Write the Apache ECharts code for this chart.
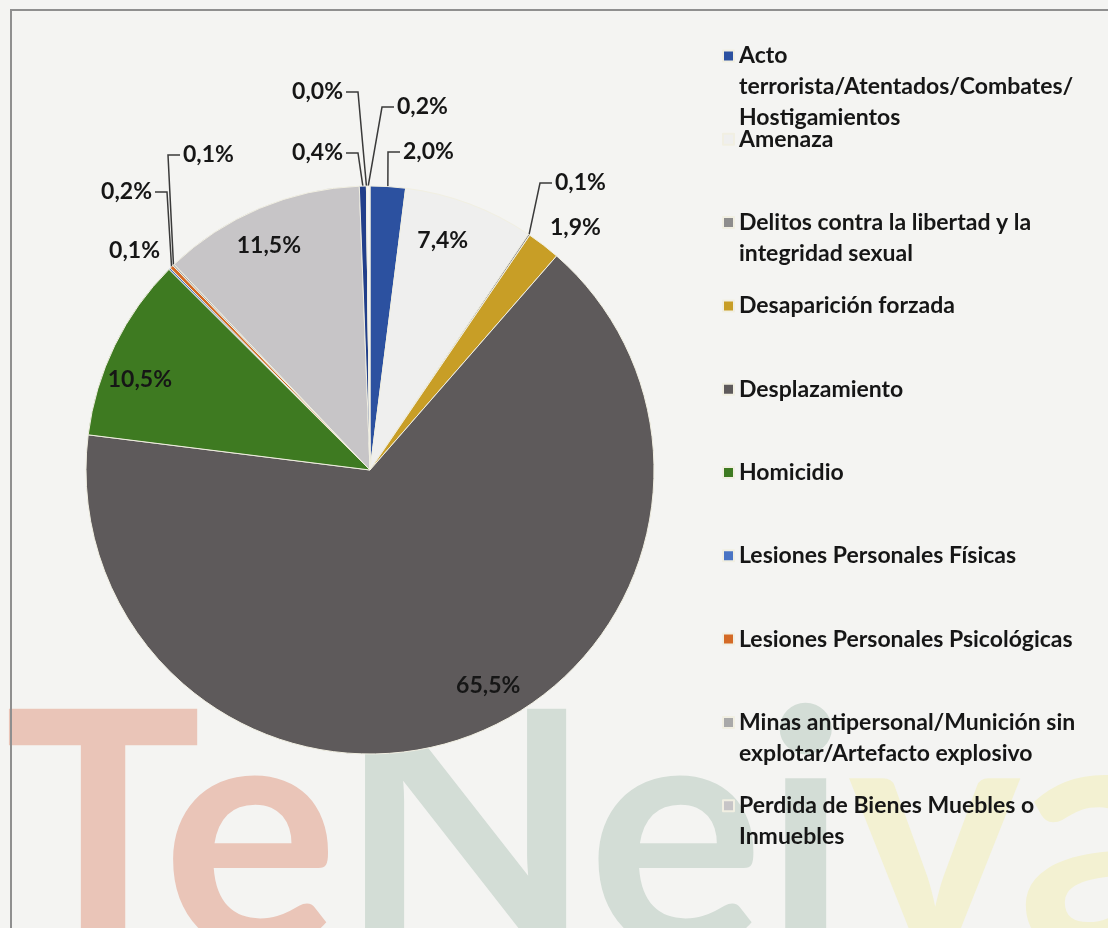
<!DOCTYPE html>
<html>
<head>
<meta charset="utf-8">
<title>Hechos victimizantes</title>
<script src="https://cdn.jsdelivr.net/npm/echarts@6/dist/echarts.min.js"></script>
<style>
  html, body { margin: 0; padding: 0; background: #f4f4f2; }
  #chart { width: 1108px; height: 928px; }
</style>
</head>
<body>
<div id="chart"></div>
<script>
// categories in the order the slices go round (clockwise from 12 o'clock)
const categories = [
  'Acto terrorista/Atentados/Combates/Hostigamientos',
  'Amenaza',
  'Delitos contra la libertad y la integridad sexual',
  'Desaparición forzada',
  'Desplazamiento',
  'Homicidio',
  'Lesiones Personales Físicas',
  'Lesiones Personales Psicológicas',
  'Minas antipersonal/Munición sin explotar/Artefacto explosivo',
  'Perdida de Bienes Muebles o Inmuebles',
  'Secuestro',
  'Sin información',
  'Tortura'
];
// percentage of victims
const percentages = [2.0, 7.4, 0.1, 1.9, 65.5, 10.5, 0.1, 0.2, 0.1, 11.5, 0.4, 0.0, 0.2];
// only these show in the legend of the picture
const legendNames = categories.slice(0, 10);

const colors = ['#2c51a0', '#efefee', '#8e8d8d', '#c89e26', '#5e5a5b', '#3e7a21',
                '#4a74c4', '#d46a26', '#a9a9a9', '#c7c5c7', '#223f8a', '#9a9a9a', '#f6f6f4'];

// how the legend wraps long names
const legendLines = {
  'Acto terrorista/Atentados/Combates/Hostigamientos': ['Acto', 'terrorista/Atentados/Combates/', 'Hostigamientos'],
  'Delitos contra la libertad y la integridad sexual': ['Delitos contra la libertad y la', 'integridad sexual'],
  'Minas antipersonal/Munición sin explotar/Artefacto explosivo': ['Minas antipersonal/Munición sin', 'explotar/Artefacto explosivo'],
  'Perdida de Bienes Muebles o Inmuebles': ['Perdida de Bienes Muebles o', 'Inmuebles']
};

// where the small outside labels sit (excel "best fit" look)
const labelSpots = {
  0: { x: 403, y: 152, align: 'left' },
  2: { x: 555, y: 183, align: 'left' },
  3: { x: 550, y: 228, align: 'left', noLine: true },
  6: { x: 160, y: 251, align: 'right', noLine: true },
  7: { x: 152, y: 192, align: 'right' },
  8: { x: 183, y: 155, align: 'left' },
  10: { x: 343, y: 153, align: 'right' },
  11: { x: 343, y: 92, align: 'right' },
  12: { x: 397, y: 107, align: 'left' }
};
// small shifts for the labels inside the big slices
const insideNudge = { 1: [-14, 2], 4: [30, -15], 5: [-8, 18], 9: [-5, 3] };

const isBig = v => v >= 5;
const pct = v => v.toFixed(1).replace('.', ',') + '%';
const font = { fontFamily: 'Lato', fontSize: 23, fontWeight: 'bold', color: '#161616' };

const center = [370, 470];
const R = 284;

// excel legend: fixed slots, long names run on below the first line
const LINE = 31;
const legends = legendNames.map((name, i) => {
  const lines = legendLines[name] || [name];
  const n = lines.length;
  // pad with empty lines on top so the first line sits next to the marker
  const text = new Array(n - 1).fill('').concat(lines).join('\n');
  const yc = 56 + i * 83.3;
  return {
    orient: 'vertical',
    left: 722,
    top: yc - (2 * n - 1) * LINE / 2,
    padding: 0,
    data: [name],
    icon: 'rect',
    itemWidth: 11,
    itemHeight: 11,
    selectedMode: false,
    formatter: () => text,
    textStyle: Object.assign({}, font, { lineHeight: LINE })
  };
});

const chart = echarts.init(document.getElementById('chart'));
chart.setOption({
  backgroundColor: '#f4f4f2',
  animation: false,
  color: colors,
  graphic: [
    {
      type: 'text', left: 4, top: 676, z: -5, silent: true,
      style: {
        text: '{a|Te}{b|Nei}{c|va}',
        rich: {
          a: { font: 'bold 330px Lato', fill: '#eac5b8' },
          b: { font: 'bold 330px Lato', fill: '#d3ddd6' },
          c: { font: 'bold 330px Lato', fill: '#f3f1d2' }
        }
      }
    },
    {
      type: 'rect', z: 10, silent: true,
      shape: { x: 11, y: 10, width: 1200, height: 1000 },
      style: { fill: 'none', stroke: '#8f8f8f', lineWidth: 2 }
    }
  ],
  legend: legends,
  series: [
    {
      name: 'Hechos',
      type: 'pie',
      center: center,
      radius: [0, R],
      startAngle: 90,
      clockwise: true,
      avoidLabelOverlap: false,
      silent: true,
      itemStyle: { borderColor: '#f1efe2', borderWidth: 1 },
      label: Object.assign({ show: true, position: 'outside', formatter: p => pct(p.value) }, font),
      labelLine: { show: true, length: 20, length2: 10, lineStyle: { color: '#3a3a3a', width: 1.5 } },
      labelLayout: function (params) {
        const spot = labelSpots[params.dataIndex];
        if (!spot) return {};
        const out = { x: spot.x, y: spot.y, align: spot.align, verticalAlign: 'middle' };
        if (!spot.noLine && params.labelLinePoints) {
          const edge = params.labelLinePoints[0];
          const s = spot.align === 'left' ? -1 : 1;
          out.labelLinePoints = [edge, [spot.x + s * 15, spot.y], [spot.x + s * 3, spot.y]];
        }
        return out;
      },
      data: categories.map((name, i) => ({
        name: name,
        value: percentages[i],
        label: { show: !isBig(percentages[i]) },
        labelLine: { show: !isBig(percentages[i]) && !(labelSpots[i] && labelSpots[i].noLine) }
      }))
    },
    {
      // transparent ring, only used to put the big labels near the rim
      name: 'etiquetas',
      type: 'pie',
      center: center,
      radius: [R * 0.72, R],
      startAngle: 90,
      clockwise: true,
      silent: true,
      itemStyle: { color: 'rgba(0,0,0,0)', borderWidth: 0 },
      label: Object.assign({ show: true, position: 'inside', opacity: 1, formatter: p => pct(p.value) }, font),
      labelLine: { show: false },
      labelLayout: function (params) {
        const d = insideNudge[params.dataIndex];
        return d ? { dx: d[0], dy: d[1] } : {};
      },
      data: categories.map((name, i) => ({
        name: name,
        value: percentages[i],
        label: { show: isBig(percentages[i]) }
      }))
    }
  ]
});
</script>
</body>
</html>
